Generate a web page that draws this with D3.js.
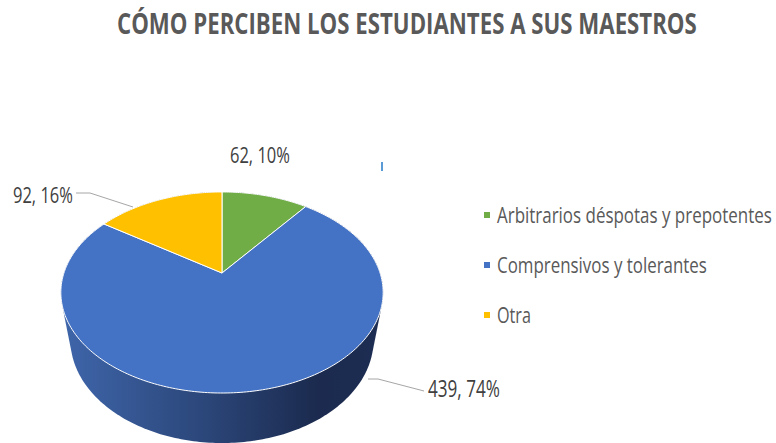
<!DOCTYPE html>
<html>
<head>
<meta charset="utf-8">
<script src="https://cdn.jsdelivr.net/npm/d3@7"></script>
<style>
  body { margin: 0; background: #fff; }
  svg { display: block; }
  text { font-family: "Liberation Sans Narrow", "Open Sans", sans-serif; }
</style>
</head>
<body>
<svg id="chart" width="776" height="443"></svg>
<script>
const title = 'CÓMO PERCIBEN LOS ESTUDIANTES A SUS MAESTROS';
const categories = ['Arbitrarios déspotas y prepotentes', 'Comprensivos y tolerantes', 'Otra'];
const values = [62, 439, 92];
const colors = ['#70ad47', '#4472c4', '#ffc000'];

const svg = d3.select('#chart');
const total = d3.sum(values);

// 3D perspective of a tilted disc
const cx = 222, cy = 273;
const f = 645, D = 4.08, sinA = 0.612, cosA = 0.791, depthH = 0.405;
function proj(theta, yw) {
  const x = Math.sin(theta), z = Math.cos(theta);
  const d = D + z * cosA - yw * sinA;
  return [cx + f * x / d, cy - f * (z * sinA + yw * cosA) / d];
}

// squeeze a text horizontally to a target width (Calibri-like look)
function fitText(sel, x, y, w) {
  const natural = sel.node().getComputedTextLength();
  const s = Math.min(1, w / natural);
  sel.attr('x', 0).attr('y', 0)
    .attr('transform', `translate(${x},${y}) scale(${s},1)`);
}

const pie = d3.pie().sort(null).value(d => d.value);
const arcs = pie(values.map((v, i) => ({value: v, i})));

const defs = svg.append('defs');
const grad = defs.append('linearGradient').attr('id', 'side')
  .attr('x1', 0).attr('x2', 1).attr('y1', 0).attr('y2', 0);
grad.append('stop').attr('offset', '0%').attr('stop-color', '#3f66ab');
grad.append('stop').attr('offset', '45%').attr('stop-color', '#2b4679');
grad.append('stop').attr('offset', '80%').attr('stop-color', '#1b2a4e');
grad.append('stop').attr('offset', '100%').attr('stop-color', '#1d2d53');

// side wall (only the blue slice shows in front)
const rim = d3.range(0, 361).map(a => a * Math.PI / 180);
const hull = d3.polygonHull(rim.map(t => proj(t, 0)).concat(rim.map(t => proj(t, -depthH))));
svg.append('path')
  .attr('d', 'M' + hull.join('L') + 'Z')
  .attr('fill', 'url(#side)');

// top face slices
function slicePath(a) {
  const n = Math.max(2, Math.ceil((a.endAngle - a.startAngle) * 60));
  const pts = d3.range(n + 1).map(k => proj(a.startAngle + (a.endAngle - a.startAngle) * k / n, 0));
  return 'M' + [cx, cy].join(',') + 'L' + pts.join('L') + 'Z';
}
svg.append('g').selectAll('path')
  .data(arcs)
  .join('path')
  .attr('d', slicePath)
  .attr('fill', d => colors[d.data.i])
  .attr('stroke', '#ffffff')
  .attr('stroke-width', 1)
  .attr('stroke-linejoin', 'round');

// data labels
const labelPos = [
  {x: 230, y: 163, w: 60, size: 22, line: null},
  {x: 428, y: 397, w: 72, size: 24, line: [[368, 379], [378, 379], [424, 391]]},
  {x: 13, y: 203, w: 60, size: 22, line: [[76, 193], [90, 193], [133, 207]]}
];
const labels = svg.append('g');
labelPos.forEach((p, i) => {
  if (p.line) {
    labels.append('polyline')
      .attr('points', p.line.join(' '))
      .attr('fill', 'none')
      .attr('stroke', '#a6a6a6')
      .attr('stroke-width', 1);
  }
  const t = labels.append('text')
    .attr('font-size', p.size)
    .attr('fill', '#404040')
    .text(values[i] + ', ' + Math.round(values[i] / total * 100) + '%');
  fitText(t, p.x, p.y, p.w);
});

// small stray tick mark
svg.append('rect').attr('x', 381).attr('y', 162).attr('width', 2).attr('height', 9).attr('fill', '#5b9bd5');

// title
const tt = svg.append('text')
  .attr('font-size', 29)
  .attr('font-weight', 'bold')
  .attr('fill', '#595959')
  .text(title);
fitText(tt, 117, 34, 580);

// legend
const legendW = [275, 210, 34];
const legend = svg.append('g').attr('transform', 'translate(484,223)');
categories.forEach((c, i) => {
  const g = legend.append('g').attr('transform', `translate(0,${i * 50})`);
  g.append('rect').attr('x', 0).attr('y', -11).attr('width', 6).attr('height', 6).attr('fill', colors[i]);
  const t = g.append('text')
    .attr('font-size', 22)
    .attr('fill', '#595959')
    .text(c);
  fitText(t, 13, 0, legendW[i]);
});
</script>
</body>
</html>
